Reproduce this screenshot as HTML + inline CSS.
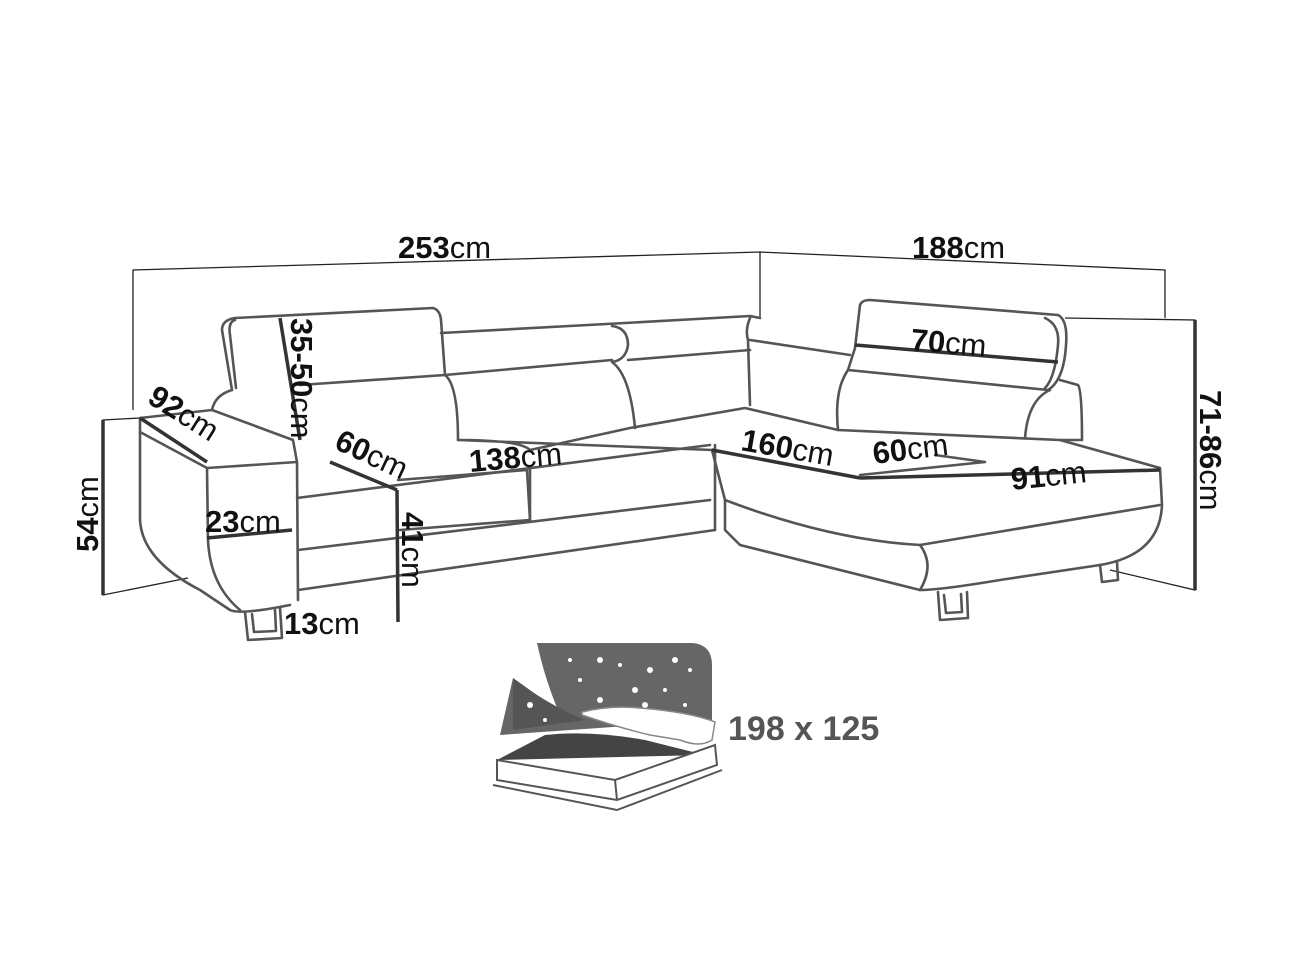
<!DOCTYPE html>
<html><head><meta charset="utf-8"><style>
html,body{margin:0;padding:0;background:#fff;}
svg{display:block;}
text{font-family:"Liberation Sans",sans-serif;font-size:31px;fill:#111;}
.b{font-weight:bold;}
</style></head><body>
<svg width="1298" height="973" viewBox="0 0 1298 973" xmlns="http://www.w3.org/2000/svg">
<g fill="none" stroke="#222" stroke-width="1.3">
<polyline points="133,410 133,270 760,252 1165,270 1165,318"/>
<line x1="760" y1="252" x2="760" y2="318"/>
<polyline points="1065,318 1195,320 1195,590 1110,570"/>
<polyline points="140,418 103,420 103,595 188,578"/>
</g>
<g fill="none" stroke="#555" stroke-width="2.6" stroke-linejoin="round" stroke-linecap="round">
<path d="M232,390 L222,330 Q222,320 235,318 L433,308 Q440,310 441,320 L445,375 L300,385"/>
<path d="M235,320 Q228,322 230,335 L236,388"/>
<path d="M441,333 L625,323 L750,316 L760,318"/>
<path d="M445,375 Q458,385 458,440"/>
<path d="M445,375 L612,360"/>
<path d="M612,326 Q628,328 628,345 Q626,360 612,362 Q630,375 635,428"/>
<path d="M628,360 L750,350"/>
<path d="M232,390 Q215,395 212,410"/>
<path d="M140,418 L212,410 L293,440 L297,462 L207,468 L140,432 Z"/>
<path d="M140,432 L140,520 Q142,560 200,590 L230,610 Q240,615 290,605"/>
<path d="M207,468 L208,540 Q210,585 240,610"/>
<path d="M297,462 L298,600"/>
<path d="M297,498 L710,445"/>
<path d="M298,590 L715,530"/>
<path d="M298,550 L710,500"/>
<path d="M458,440 Q520,440 530,450 L630,428 L745,408 L838,430 L1060,440 L1160,468 L1162,505 Q1160,555 1100,565 L1000,580 Q940,590 920,590 L740,545 L725,530 L725,500 L712,450 Z"/>
<path d="M530,470 L530,520"/>
<path d="M398,480 L527,470 L530,520 L400,530"/>
<path d="M715,445 L715,530"/>
<path d="M725,500 Q830,540 920,545 L1160,505"/>
<path d="M920,545 Q935,565 920,590"/>
<path d="M712,450 L860,478 L1160,470"/>
<path d="M860,475 L985,462 L935,455"/>
<path d="M838,430 Q834,390 848,370 L855,348 L860,305 Q862,300 870,300 L1058,315 Q1068,320 1066,345 Q1064,380 1048,390 L848,370"/>
<path d="M1045,318 Q1060,325 1058,345 Q1055,378 1045,388"/>
<path d="M1050,390 Q1028,400 1025,438"/>
<path d="M1060,380 L1078,385 Q1082,390 1082,440 L1060,440"/>
<path d="M750,318 Q745,330 748,340 L750,405"/>
<path d="M750,340 L850,355"/>
<path d="M245,612 L248,640 L282,638 L280,608"/>
<path d="M252,614 L254,632 L276,631 L275,610"/>
<path d="M938,592 L940,620 L968,618 L967,592"/>
<path d="M944,595 L946,613 L962,612 L961,594"/>
<path d="M1100,565 L1102,582 L1118,580 L1117,562"/>
</g>
<g stroke="#333" stroke-width="3.5" fill="none">
<line x1="280" y1="318" x2="300" y2="440"/>
<line x1="140" y1="418" x2="207" y2="462"/>
<line x1="330" y1="462" x2="397" y2="490"/>
<line x1="397" y1="490" x2="398" y2="622"/>
<line x1="207" y1="538" x2="292" y2="530"/>
<line x1="855" y1="345" x2="1058" y2="362"/>
<line x1="712" y1="450" x2="860" y2="478"/>
<line x1="860" y1="478" x2="1160" y2="470"/>
<line x1="1195" y1="320" x2="1195" y2="590"/>
<line x1="103" y1="420" x2="103" y2="595"/>
</g>
<text x="398" y="258"><tspan class="b">253</tspan>cm</text>
<text x="912" y="258"><tspan class="b">188</tspan>cm</text>
<text x="910" y="350" transform="rotate(5 910 350)"><tspan class="b">70</tspan>cm</text>
<text transform="translate(291,318) rotate(90)"><tspan class="b">35-50</tspan>cm</text>
<text transform="translate(146,402) rotate(32)"><tspan class="b">92</tspan>cm</text>
<text transform="translate(333,448) rotate(25)"><tspan class="b">60</tspan>cm</text>
<text x="470" y="472" transform="rotate(-5 470 472)"><tspan class="b">138</tspan>cm</text>
<text x="205" y="532"><tspan class="b">23</tspan>cm</text>
<text transform="translate(402,512) rotate(90)"><tspan class="b">41</tspan>cm</text>
<text x="284" y="634"><tspan class="b">13</tspan>cm</text>
<text transform="translate(98,552) rotate(-90)"><tspan class="b">54</tspan>cm</text>
<text transform="translate(740,450) rotate(10)"><tspan class="b">160</tspan>cm</text>
<text x="874" y="464" transform="rotate(-7 874 464)"><tspan class="b">60</tspan>cm</text>
<text x="1012" y="490" transform="rotate(-6 1012 490)"><tspan class="b">91</tspan>cm</text>
<text transform="translate(1200,390) rotate(90)"><tspan class="b">71-86</tspan>cm</text>
<path d="M537,643 L693,643 Q712,645 712,665 L712,720 L500,735 L513,678 Q545,700 560,715 Q545,680 537,643 Z" fill="#666"/>
<path d="M513,678 Q548,705 585,720 L513,730 Z" fill="#555"/>
<g fill="#fff">
<circle cx="570" cy="660" r="2"/><circle cx="600" cy="660" r="3"/><circle cx="620" cy="665" r="2"/><circle cx="650" cy="670" r="3"/><circle cx="675" cy="660" r="3"/><circle cx="690" cy="670" r="2"/>
<circle cx="580" cy="680" r="2"/><circle cx="635" cy="690" r="3"/><circle cx="665" cy="690" r="2"/><circle cx="600" cy="700" r="3"/><circle cx="645" cy="705" r="3"/><circle cx="685" cy="705" r="2"/><circle cx="530" cy="705" r="3"/><circle cx="545" cy="720" r="2"/>
</g>
<path d="M582,712 Q610,705 640,708 Q690,712 715,722 L712,740 Q700,748 680,740 L650,735 Q620,728 582,715 Z" fill="#fff" stroke="#888" stroke-width="1.5"/>
<path d="M497,760 L545,735 Q590,730 645,740 L705,755 Z" fill="#444"/>
<path d="M497,760 L615,780 L715,745 L717,765 L617,800 L497,780 Z" fill="#fff" stroke="#555" stroke-width="2"/>
<line x1="615" y1="780" x2="617" y2="800" stroke="#555" stroke-width="2"/>
<path d="M493,785 L617,810 L722,770" fill="none" stroke="#555" stroke-width="2"/>
<text x="728" y="740" style="font-size:34px;font-weight:bold;fill:#555">198 x 125</text>
</svg>
</body></html>
